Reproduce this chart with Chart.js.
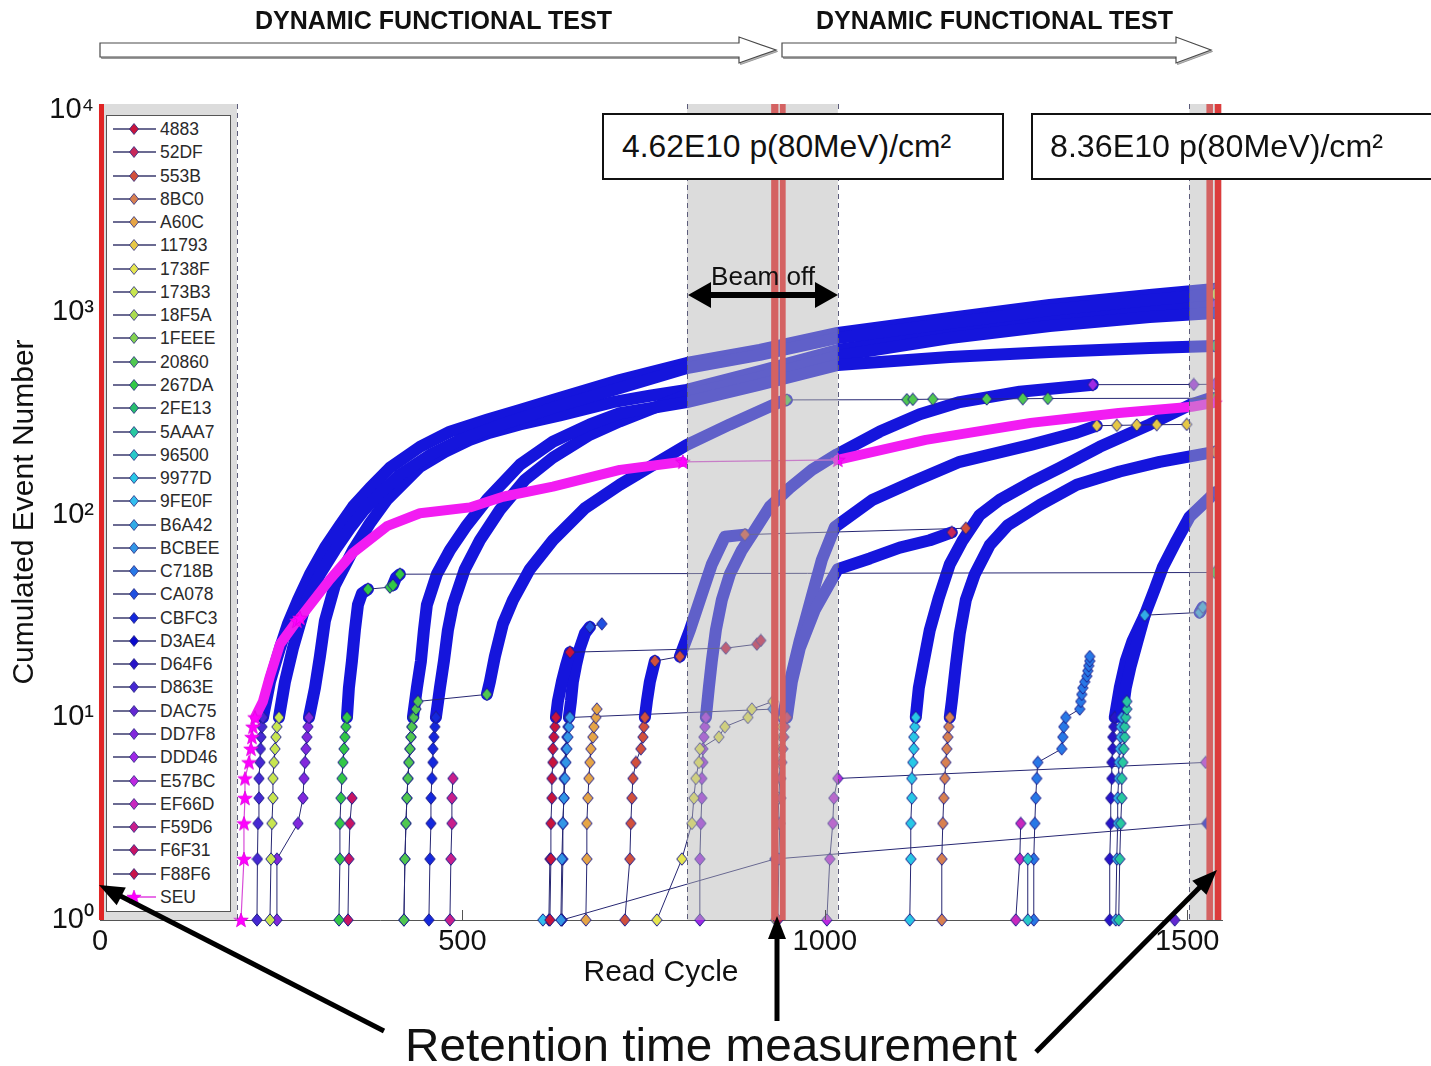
<!DOCTYPE html>
<html>
<head>
<meta charset="utf-8">
<title>Cumulated Event Number vs Read Cycle</title>
<script src="https://cdn.jsdelivr.net/npm/chart.js@4.4.1/dist/chart.umd.min.js"></script>
<style>
  html, body { margin:0; padding:0; background:#fff; }
  body { width:1431px; height:1066px; position:relative; overflow:hidden; font-family:"Liberation Sans", Arial, sans-serif; color:#111; }
  #chart { position:absolute; left:0; top:0; }
  #ov { position:absolute; left:0; top:0; z-index:5; }
  .txt { position:absolute; white-space:nowrap; transform-origin:0 0; line-height:1; }
  .title { font-weight:bold; font-size:25px; }
  .box { position:absolute; box-sizing:border-box; border:2px solid #111; background:#fff; height:67px; top:113px; overflow:hidden; }
  .box span { position:absolute; top:0; line-height:63px; font-size:32px; white-space:nowrap; transform-origin:0 50%; }
  #legend { position:absolute; left:106px; top:115px; width:125px; height:797px; box-sizing:border-box; border:1px solid #555; background:#fff; }
  #legend .row { position:absolute; left:0; width:123px; height:20px; }
  #legend .lab { position:absolute; left:53px; top:0; font-size:17.5px; line-height:20px; color:#2a2a2a; }
  #legend svg { position:absolute; left:0; top:0; }
</style>
</head>
<body>
<canvas id="chart" width="1431" height="1066"></canvas>
<div id="legend"></div>
<div class="txt title" id="t1" style="left:255px; top:8px;">DYNAMIC FUNCTIONAL TEST</div>
<div class="txt title" id="t2" style="left:816px; top:8px;">DYNAMIC FUNCTIONAL TEST</div>
<div class="box" style="left:602px; width:402px;"><span id="b1" style="left:18px;">4.62E10 p(80MeV)/cm²</span></div>
<div class="box" style="left:1031px; width:440px;"><span id="b2" style="left:17px;">8.36E10 p(80MeV)/cm²</span></div>
<div class="txt" id="beam" style="left:711px; top:263px; font-size:26px;">Beam off</div>
<div class="txt" id="ret" style="left:405px; top:1022px; font-size:46px;">Retention time measurement</div>
<svg id="ov" width="1431" height="1066"></svg>
<script>
// ---------------- data ----------------
const xTicks = [0, 500, 1000, 1500];
const yTicks = [1, 10, 100, 1000, 10000];
const grayIntervals = [[0, 189], [810, 1018], [1503, 1547]];
const retentionBars = [[-1.4, 5.5], [926, 936], [938, 946], [1526.5, 1535.5], [1538, 1547]];

const names = ['4883','52DF','553B','8BC0','A60C','11793','1738F','173B3','18F5A','1FEEE','20860','267DA','2FE13','5AAA7','96500','9977D','9FE0F','B6A42','BCBEE','C718B','CA078','CBFC3','D3AE4','D64F6','D863E','DAC75','DD7F8','DDD46','E57BC','EF66D','F59D6','F6F31','F88F6'];

const x_4883 = [620.7,622.1,622.1,623.4,623.4,624.8,624.8,626.2,627.6,629,631.7,637.2,642.8,648.3,863.4,906.2,911.7];
const y_4883 = [1,2,3,4,5,6,7,8,9,10,12,15,18,21,22,23,24];
const x_52DF = [935.2,936.6,937.9,939.3,939.3,940.7,942.1,943.4,944.8,947.6,954.5,965.5,986.2,1017.9,1062.1,1103.4,1144.8,1175.2];
const y_52DF = [1,2,3,4,5,6,7,8,9,10,15,22,34,54,61,69,75,82];
const x_553B = [724.1,731,732.4,733.8,735.2,739.3,746.2,749,750.3,751.7,754.5,758.6,765.5,800,813.8,827.6,844.1,862.1,889.7,1194.5];
const y_553B = [1,2,3,4,5,6,7,8,9,10,12,15,19,20,27,38,57,78,80,86];
const x_8BC0 = [1161.4,1161.4,1162.8,1164.1,1165.5,1166.9,1168.3,1169.7,1171,1172.4,1175.2,1180.7,1186.2,1194.5,1206.9,1227.6,1252.4,1296.6,1347.6,1406.9,1462.1,1537.9];
const y_8BC0 = [1,2,3,4,5,6,7,8,9,10,12,18,26,38,51,71,89,112,141,164,183,205];
const x_A60C = [670.3,671.7,671.7,673.1,674.5,675.9,677.2,680,681.4,684.1,685.5];
const y_A60C = [1,2,3,4,5,6,7,8,9,10,11];
const x_11793 = [932.4,933.8,935.2,936.6,937.9,937.9,939.3,940.7,940.7,942.1,951.7,965.5,980.7,995.9,1013.8,1066.2,1121.4,1186.2,1284.1,1347.6,1375.2,1402.8,1430.3,1457.9,1499.3];
const y_11793 = [1,2,3,4,5,6,7,8,9,10,15,24,38,60,87,119,146,183,222,255,276,277,278,279,280];
const x_1738F = [768.3,802.8,816.6,819.3,822.1,826.2,827.6,853.8,862.1,893.8,899.3,928.3];
const y_1738F = [1,2,3,4,5,6,7,8,9,10,11,12];
const x_173B3 = [234.5,235.9,237.2,238.6,238.6,240,241.4,242.8,244.1,246.9,255.2,266.2,275.9,285.5,303.4,324.1,344.8,362.8,386.2,413.8,455.2,496.6,551.7,624.8,717.2,809.7,910.3,1017.9,1172.4,1310.3,1448.3,1537.9];
const y_173B3 = [1,2,3,4,5,6,7,8,9,10,15,22,29,38,51,67,86,104,128,158,198,235,278,338,424,532,617,748,887,1029,1153,1234];
const x_18F5A = [];
const y_18F5A = [];
const x_1FEEE = [];
const y_1FEEE = [];
const x_20860 = [419.3,420.7,422.1,423.4,424.8,426.2,427.6,429,430.3,433.1,435.9,438.6,533.8,537.9,544.8,555.9,569.7,593.1,624.8,669,717.2,809.7,869,937.9,947.6,1113.1,1121.4,1149,1223.4,1273.1,1307.6,1537.9];
const y_20860 = [1,2,3,4,5,6,7,8,9,10,11,12,13,15,20,29,38,54,75,108,141,222,280,361,370,371,372,373,374,375,376,377];
const x_267DA = [329.7,331,331,332.4,333.8,335.2,336.6,337.9,339.3,340.7,343.4,347.6,351.7,355.9,361.4,369.7,400,404.1,408.3,413.8,1537.9];
const y_267DA = [1,2,3,4,5,6,7,8,9,10,14,19,27,36,41,43,44,45,49,51,52];
const x_2FE13 = [419.3,420.7,422.1,423.4,424.8,426.2,427.6,429,430.3,431.7,437.2,442.8,446.9,451,464.8,482.8,506.2,533.8,579.3,624.8,675.9,717.2,809.7,910.3,1017.9,1172.4,1310.3,1448.3,1537.9];
const y_2FE13 = [1,2,3,4,5,6,7,8,9,10,14,19,27,36,51,67,89,119,177,230,280,318,361,440,550,603,638,668,683];
const x_5AAA7 = [1405.5,1406.9,1408.3,1409.7,1409.7,1411,1412.4,1413.8,1413.8,1415.2,1416.6,1416.6];
const y_5AAA7 = [1,2,3,4,5,6,7,8,9,10,11,12];
const x_96500 = [1280,1280];
const y_96500 = [1,2];
const x_9977D = [1117.2,1118.6,1118.6,1120,1120,1121.4,1122.8,1122.8,1124.1,1125.5,1129.7,1136.6,1144.8,1157.2,1172.4,1190.3,1213.8,1241.4,1282.8,1324.1,1379.3,1448.3,1503.4,1533.8];
const y_9977D = [1,2,3,4,5,6,7,8,9,10,14,19,27,39,57,75,100,119,144,171,217,280,349,379];
const x_9FE0F = [611];
const y_9FE0F = [1];
const x_B6A42 = [1401.4,1402.8,1404.1,1404.1,1405.5,1405.5,1406.9,1408.3,1408.3,1409.7,1415.2,1422.1,1431.7,1441.4,1517.2,1521.4];
const y_B6A42 = [1,2,3,4,5,6,7,8,9,10,14,18,24,32,33,35];
const x_BCBEE = [635.9,637.2,638.6,640,641.4,642.8,644.1,645.5,646.9,648.3,928.3];
const y_BCBEE = [1,2,3,4,5,6,7,8,9,10,11];
const x_C718B = [1288.3,1288.3,1289.7,1291,1292.4,1293.8,1326.9,1328.3,1329.7,1332.4,1351.7,1353.1,1354.5,1355.9,1358.6,1361.4,1362.8,1364.1,1365.5,1365.5];
const y_C718B = [1,2,3,4,5,6,7,8,9,10,11,12,13,14,15,16,17,18,19,20];
const x_CA078 = [637.2,638.6,638.6,640,640,641.4,642.8,644.1,645.5,646.9,649.7,652.4,656.6,662.1,669,675.9,692.4];
const y_CA078 = [1,2,3,4,5,6,7,8,9,10,12,15,18,22,26,28,29];
const x_CBFC3 = [453.8,455.2,456.6,456.6,457.9,459.3,459.3,460.7,462.1,463.4,469,474.5,480,486.9,503.4,524.1,551.7,586.2,624.8,675.9,717.2,809.7,910.3,1017.9,1172.4,1310.3,1448.3,1537.9];
const y_CBFC3 = [1,2,3,4,5,6,7,8,9,10,14,19,27,36,54,75,106,149,192,249,290,392,478,610,748,858,950,994];
const x_D3AE4 = [637.2,931,1526.9];
const y_D3AE4 = [1,2,3];
const x_D64F6 = [1393.1,1393.1,1394.5,1394.5,1395.9,1395.9,1397.2,1397.2,1398.6,1400,1406.9,1415.2,1424.8,1441.4,1455.2,1466.2,1485.5,1503.4,1528.3,1537.9];
const y_D64F6 = [1,2,3,4,5,6,7,8,9,10,14,19,24,32,43,55,75,98,119,129];
const x_D863E = [216.6,217.2,218,219.3,219.3,220.7,221.4,222.1,223.4,224.8,234.5,248.3,259.3,273.1,289.7,310.3,331,349,372.4,400,441.4,482.8,533.8,579.3,624.8,717.2,809.7,910.3,1017.9,1172.4,1310.3,1448.3,1537.9];
const y_D863E = [1,2,3,4,5,6,7,8,9,10,15,22,29,38,51,69,89,110,136,171,217,258,295,330,370,464,563,653,792,939,1089,1220,1306];
const x_DAC75 = [1482.8];
const y_DAC75 = [1];
const x_DD7F8 = [244.1,244.1,273.1,280,281.4,282.8,284.1,285.5,286.9,288.3,296.6,303.4,310.3,324.1,349,372.4,395.9,420.7,441.4,475.9,510.3,537.9,579.3,634.5,707.6,758.6,809.7,910.3,1017.9,1172.4,1310.3,1448.3,1537.9];
const y_DD7F8 = [1,2,3,4,5,6,7,8,9,10,14,20,30,45,67,91,119,146,173,205,235,255,280,310,361,388,415,513,653,801,918,1029,1089];
const x_DDD46 = [827.6,827.6,829,830.3,830.3,831.7,831.7,833.1,834.5,835.9,840,844.1,849.7,857.9,869,885.5,903.4,924.1,951.7,982.1,1016.6,1075.9,1131,1186.2,1269,1369.7,1509,1537.9];
const y_DDD46 = [1,2,3,4,5,6,7,8,9,10,14,19,27,38,51,67,84,110,136,167,199,258,314,361,406,440,441,442];
const x_E57BC = [1002.8,1006.9,1011,1012.4,1017.9,1525.5];
const y_E57BC = [1,2,3,4,5,6];
const x_EF66D = [1263.4,1269,1270.3];
const y_EF66D = [1,2,3];
const x_F59D6 = [482.8,484.1,485.5,485.5,486.9];
const y_F59D6 = [1,2,3,4,5];
const x_F6F31 = [342.1,343.4,344.8,347.6];
const y_F6F31 = [1,2,3,4];
const x_F88F6 = [619.3,620.7];
const y_F88F6 = [1,2];
const x_SEU = [194.5,198.6,198.6,200,200,205.5,208.3,209.7,211,213.8,224.8,234.5,248.3,271.7,275.9,317.2,349,395.9,441.4,510.3,555.9,624.8,717.2,804.1,1017.9,1139.3,1284.1,1405.5,1506.2,1537.9];
const y_SEU = [1,2,3,4,5,6,7,8,9,10,12,16,23,30,31,48,65,88,102,109,123,138,167,183,187,235,285,319,342,358];

// ---------------- styles ----------------
const seriesColors = {
 '4883':'#c8143c','52DF':'#c8285a','553B':'#d2503c','8BC0':'#d88050','A60C':'#e6a546','11793':'#e6c846','1738F':'#e6e650','173B3':'#c8e650','18F5A':'#aadc50','1FEEE':'#82d250','20860':'#50c850','267DA':'#32c846','2FE13':'#28be6e','5AAA7':'#28c8a0','96500':'#28c8c8','9977D':'#28c8e6','9FE0F':'#32beee','B6A42':'#32aae6','BCBEE':'#3296e6','C718B':'#2878e6','CA078':'#2050e0','CBFC3':'#1428dc','D3AE4':'#0a0acc','D64F6':'#2814c8','D863E':'#4628d2','DAC75':'#6428d2','DD7F8':'#8228dc','DDD46':'#a028e6','E57BC':'#be28e0','EF66D':'#c828be','F59D6':'#c81e8c','F6F31':'#c81464','F88F6':'#c8144b'
};
const seriesX = {'4883':x_4883,'52DF':x_52DF,'553B':x_553B,'8BC0':x_8BC0,'A60C':x_A60C,'11793':x_11793,'1738F':x_1738F,'173B3':x_173B3,'18F5A':x_18F5A,'1FEEE':x_1FEEE,'20860':x_20860,'267DA':x_267DA,'2FE13':x_2FE13,'5AAA7':x_5AAA7,'96500':x_96500,'9977D':x_9977D,'9FE0F':x_9FE0F,'B6A42':x_B6A42,'BCBEE':x_BCBEE,'C718B':x_C718B,'CA078':x_CA078,'CBFC3':x_CBFC3,'D3AE4':x_D3AE4,'D64F6':x_D64F6,'D863E':x_D863E,'DAC75':x_DAC75,'DD7F8':x_DD7F8,'DDD46':x_DDD46,'E57BC':x_E57BC,'EF66D':x_EF66D,'F59D6':x_F59D6,'F6F31':x_F6F31,'F88F6':x_F88F6};
const seriesY = {'4883':y_4883,'52DF':y_52DF,'553B':y_553B,'8BC0':y_8BC0,'A60C':y_A60C,'11793':y_11793,'1738F':y_1738F,'173B3':y_173B3,'18F5A':y_18F5A,'1FEEE':y_1FEEE,'20860':y_20860,'267DA':y_267DA,'2FE13':y_2FE13,'5AAA7':y_5AAA7,'96500':y_96500,'9977D':y_9977D,'9FE0F':y_9FE0F,'B6A42':y_B6A42,'BCBEE':y_BCBEE,'C718B':y_C718B,'CA078':y_CA078,'CBFC3':y_CBFC3,'D3AE4':y_D3AE4,'D64F6':y_D64F6,'D863E':y_D863E,'DAC75':y_DAC75,'DD7F8':y_DD7F8,'DDD46':y_DDD46,'E57BC':y_E57BC,'EF66D':y_EF66D,'F59D6':y_F59D6,'F6F31':y_F6F31,'F88F6':y_F88F6};

const FONT = '"Liberation Sans", Arial, sans-serif';
const THIN = '#262672';
const BAND = '#1515dc';
const SEU_COLOR = '#ff00ff';

function diamondImg(fill){
  const c = document.createElement('canvas'); c.width = 12; c.height = 14;
  const g = c.getContext('2d');
  g.beginPath(); g.moveTo(6,0.8); g.lineTo(11.2,7); g.lineTo(6,13.2); g.lineTo(0.8,7); g.closePath();
  g.fillStyle = fill; g.fill(); g.strokeStyle = '#1e1e8c'; g.lineWidth = 1; g.stroke();
  return c;
}
function starPts(cx, cy, R, r){
  const p = [];
  for (let k = 0; k < 10; k++){
    const a = -Math.PI/2 + k*Math.PI/5; const rr = k%2 ? r : R;
    p.push([cx + rr*Math.cos(a), cy + rr*Math.sin(a)]);
  }
  return p;
}
function starImg(){
  const c = document.createElement('canvas'); c.width = 16; c.height = 16;
  const g = c.getContext('2d'); const p = starPts(8, 8.6, 7.6, 3.1);
  g.beginPath(); p.forEach((q,i)=> i ? g.lineTo(q[0],q[1]) : g.moveTo(q[0],q[1])); g.closePath();
  g.fillStyle = SEU_COLOR; g.fill(); g.strokeStyle = '#e000e0'; g.lineWidth = 0.8; g.stroke();
  return c;
}

function denseFn(pts){
  return (i0, i1) => {
    const a = pts[i0], b = pts[i1];
    if (!a || !b) return false;
    const dc = b.y - a.y, dx = Math.max(b.x - a.x, 0.5);
    return dc >= 2 && dc / dx >= 0.05;
  };
}
function makeDataset(label, xs, ys, opts){
  const pts = xs.map((x, j) => ({x: x, y: ys[j]}));
  const dense = denseFn(pts);
  return {
    label: label, data: pts, showLine: true, tension: 0,
    borderColor: opts.thin, borderWidth: 1,
    borderCapStyle: 'round', borderJoinStyle: 'round',
    clip: 10,
    segment: {
      borderWidth: ctx => dense(ctx.p0DataIndex, ctx.p1DataIndex) ? opts.bandW : opts.thinW,
      borderColor: ctx => dense(ctx.p0DataIndex, ctx.p1DataIndex) ? opts.band : opts.thin
    },
    pointStyle: opts.img,
    pointRadius: ctx => {
      const i = ctx.dataIndex;
      const pd = i > 0 && dense(i-1, i), nd = i < pts.length-1 && dense(i, i+1);
      return (pd && nd) ? 0 : 6;
    },
    pointHoverRadius: 0, pointHitRadius: 0,
    order: opts.order
  };
}

const datasets = [];
datasets.push(makeDataset('SEU', x_SEU, y_SEU, {thin:'#d84cd8', thinW:1.2, band:'#f21cf2', bandW:10, img: starImg(), order:-1}));
names.forEach(n => {
  datasets.push(makeDataset(n, seriesX[n], seriesY[n], {thin: THIN, thinW:1, band: BAND, bandW:12, img: diamondImg(seriesColors[n]), order:0}));
});

const sup = ['\u2070','\u00b9','\u00b2','\u00b3','\u2074'];

const overlayPlugin = {
  id: 'overlays',
  afterDatasetsDraw(chart){
    const {ctx, chartArea: a, scales: {x}} = chart;
    ctx.save();
    grayIntervals.forEach(([x0, x1]) => {
      const p0 = x.getPixelForValue(x0), p1 = x.getPixelForValue(x1);
      ctx.fillStyle = 'rgba(180,180,180,0.47)';
      ctx.fillRect(p0, a.top, p1 - p0, a.bottom - a.top);
    });
    ctx.strokeStyle = '#5c5c7a'; ctx.lineWidth = 1; ctx.setLineDash([5,4]);
    grayIntervals.forEach(([x0, x1]) => {
      [x0, x1].forEach(v => {
        if (v <= 0 || v >= 1545) return;
        const p = Math.round(x.getPixelForValue(v)) + 0.5;
        ctx.beginPath(); ctx.moveTo(p, a.top); ctx.lineTo(p, a.bottom); ctx.stroke();
      });
    });
    ctx.setLineDash([]);
    retentionBars.forEach(([x0, x1], k) => {
      const p0 = x.getPixelForValue(x0), p1 = x.getPixelForValue(x1);
      ctx.fillStyle = k === 0 ? '#e02424' : (k === retentionBars.length - 1 ? '#dc3c3c' : '#d46262');
      ctx.fillRect(p0, a.top, p1 - p0, a.bottom - a.top);
    });
    ctx.strokeStyle = '#555'; ctx.lineWidth = 1;
    xTicks.forEach(v => {
      if (v === 0) return;
      const p = Math.round(x.getPixelForValue(v)) + 0.5;
      ctx.beginPath(); ctx.moveTo(p, a.bottom); ctx.lineTo(p, a.bottom - 10); ctx.stroke();
    });
    ctx.restore();
  }
};

Chart.defaults.font.family = FONT;
new Chart(document.getElementById('chart'), {
  type: 'line',
  data: { datasets: datasets },
  options: {
    responsive: false, animation: false, events: [],
    layout: { padding: { left: 0, top: 104, right: 209, bottom: 75 } },
    plugins: { legend: { display: false }, tooltip: { enabled: false } },
    scales: {
      x: {
        type: 'linear', min: 0, max: 1548,
        afterBuildTicks: s => { s.ticks = xTicks.map(v => ({value: v})); },
        afterFit: s => { s.height = 71; },
        grid: { display: false, drawTicks: false },
        border: { display: true, color: '#555', width: 1 },
        ticks: { font: { size: 29 }, color: '#111', padding: 5, maxRotation: 0, autoSkip: false,
                 callback: v => String(v) },
        title: { display: true, text: 'Read Cycle', font: { size: 30 }, color: '#111', padding: { top: 0, bottom: 0 } }
      },
      y: {
        type: 'logarithmic', min: 1, max: 10700,
        afterBuildTicks: s => { s.ticks = yTicks.map(v => ({value: v})); },
        afterFit: s => { s.width = 100; },
        grid: { display: false, drawTicks: false },
        border: { display: false },
        ticks: {
          font: { size: 29 }, color: '#111', padding: 6, autoSkip: false,
          callback: v => { const e = Math.round(Math.log10(v)); return '10' + sup[e]; }
        },
        title: { display: true, text: 'Cumulated Event Number', font: { size: 30 }, color: '#111', padding: { top: 7, bottom: 0 } }
      }
    }
  },
  plugins: [overlayPlugin]
});

// ---------------- legend ----------------
const lg = document.getElementById('legend');
const legendNames = names.concat(['SEU']);
legendNames.forEach((n, i) => {
  const row = document.createElement('div');
  row.className = 'row';
  row.style.top = (13 + i * 23.27 - 10) + 'px';
  let marker;
  if (n === 'SEU') {
    const p = starPts(27, 10.5, 7.5, 3).map(q => q[0].toFixed(1) + ',' + q[1].toFixed(1)).join(' ');
    marker = '<line x1="6" y1="10" x2="49" y2="10" stroke="#e040e0" stroke-width="1.3"/><polygon points="' + p + '" fill="' + SEU_COLOR + '" stroke="#e000e0" stroke-width="0.6"/>';
  } else {
    marker = '<line x1="6" y1="10" x2="49" y2="10" stroke="#3a3a6e" stroke-width="1.3"/><polygon points="27,4.5 31.5,10 27,15.5 22.5,10" fill="' + seriesColors[n] + '" stroke="#2a2a80" stroke-width="0.8"/>';
  }
  row.innerHTML = '<svg width="52" height="20">' + marker + '</svg><span class="lab">' + n + '</span>';
  lg.appendChild(row);
});

// ---------------- annotation shapes ----------------
function arrow(x1, y1, x2, y2, w, hl, hw){
  const dx = x2 - x1, dy = y2 - y1, L = Math.hypot(dx, dy), ux = dx / L, uy = dy / L;
  const bx = x2 - ux * hl, by = y2 - uy * hl, px = -uy, py = ux;
  return '<line x1="' + x1 + '" y1="' + y1 + '" x2="' + (bx + ux*2) + '" y2="' + (by + uy*2) + '" stroke="#000" stroke-width="' + w + '"/>' +
    '<polygon points="' + x2 + ',' + y2 + ' ' + (bx + px*hw/2) + ',' + (by + py*hw/2) + ' ' + (bx - px*hw/2) + ',' + (by - py*hw/2) + '" fill="#000"/>';
}
function hollow(x0, xb, xt){
  const pts = x0 + ',43 ' + xb + ',43 ' + xb + ',37 ' + xt + ',50 ' + xb + ',63 ' + xb + ',57 ' + x0 + ',57';
  const sh = (x0+1.5) + ',44.5 ' + (xb+1.5) + ',44.5 ' + (xb+1.5) + ',38.5 ' + (xt+1.5) + ',51.5 ' + (xb+1.5) + ',64.5 ' + (xb+1.5) + ',58.5 ' + (x0+1.5) + ',58.5';
  return '<polygon points="' + sh + '" fill="#bbb" stroke="#999" stroke-width="1"/><polygon points="' + pts + '" fill="#fff" stroke="#4a4a4a" stroke-width="1.2"/>';
}
let svg = '';
svg += hollow(100, 739, 776);
svg += hollow(782, 1176, 1211);
svg += '<polygon points="688,295 711,282 711,292 815,292 815,282 838,295 815,308 815,298 711,298 711,308" fill="#000"/>';
svg += arrow(384, 1031, 99, 885, 5, 25, 20);
svg += arrow(777, 1021, 777, 916, 5, 23, 18);
svg += arrow(1036, 1052, 1217, 870, 5, 25, 20);
document.getElementById('ov').innerHTML = svg;

// ---------------- fit text widths ----------------
function fitWidth(id, target){
  const el = document.getElementById(id);
  el.style.transform = 'none';
  const w = el.getBoundingClientRect().width;
  if (w > 0) el.style.transform = 'scaleX(' + (target / w) + ')';
}
function fitAll(){
  fitWidth('t1', 357); fitWidth('t2', 357);
  fitWidth('b1', 329); fitWidth('b2', 333);
  fitWidth('beam', 104); fitWidth('ret', 612);
}
fitAll();
if (document.fonts && document.fonts.ready) document.fonts.ready.then(fitAll);
</script>
</body>
</html>
